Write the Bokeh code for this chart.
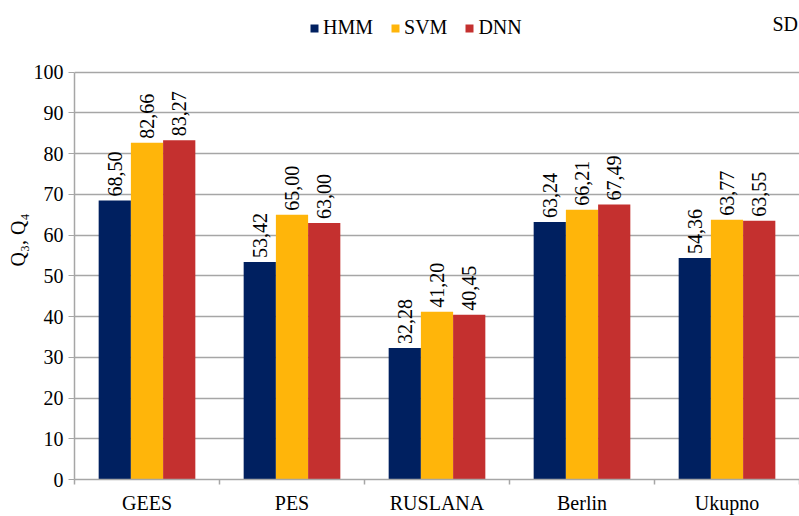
import math
from bokeh.plotting import figure
from bokeh.models import (ColumnDataSource, FixedTicker, Legend, LegendItem, Label, LabelSet, Range1d)
from bokeh.embed import file_html
from bokeh.resources import INLINE

categories = ["GEES", "PES", "RUSLANA", "Berlin", "Ukupno"]
series_names = ["HMM", "SVM", "DNN"]
hmm = [68.50, 53.42, 32.28, 63.24, 54.36]
svm = [82.66, 65.00, 41.20, 66.21, 63.77]
dnn = [83.27, 63.00, 40.45, 67.49, 63.55]
y_ticks = [0, 10, 20, 30, 40, 50, 60, 70, 80, 90, 100]
colors = ["#002060", "#FFB50A", "#C4302F"]

FONT = "Liberation Serif"
FONT_AX = "Times New Roman"
FS = "20px"
Y_TOP = 117.6

p = figure(width=799, height=516, output_backend="svg", toolbar_location=None,
           x_range=Range1d(0, len(categories)), y_range=Range1d(0, Y_TOP),
           min_border_left=74, min_border_right=0, min_border_top=0, min_border_bottom=35)
p.outline_line_color = None

bar_w = 2.0 / 9.0
offsets = [-bar_w, 0.0, bar_w]
renderers = []
for vals, off, col, name in zip([hmm, svm, dnn], offsets, colors, series_names):
    xs = [i + 0.5 + off for i in range(len(categories))]
    src = ColumnDataSource(dict(x=xs, top=vals,
                                label=[f"{v:.2f}".replace(".", ",") for v in vals]))
    r = p.vbar(x="x", top="top", width=bar_w, bottom=0, source=src,
               fill_color=col, line_color=None)
    renderers.append(r)
    p.add_layout(LabelSet(x="x", y="top", text="label", source=src, angle=math.pi / 2,
                          text_align="left", text_baseline="middle", y_offset=4,
                          text_font=FONT, text_font_size=FS, text_color="black"))

# axes
p.xgrid.grid_line_color = None
p.ygrid.grid_line_color = "#A6A6A6"
p.ygrid.grid_line_width = 1.5
p.yaxis.ticker = FixedTicker(ticks=y_ticks)
p.yaxis.bounds = (0, 100)
p.yaxis.axis_line_color = "#A6A6A6"
p.yaxis.axis_line_width = 1.5
p.yaxis.major_tick_line_color = "#A6A6A6"
p.yaxis.major_tick_out = 6
p.yaxis.major_tick_in = 0
p.yaxis.minor_tick_line_color = None
p.yaxis.major_label_text_font = FONT_AX
p.yaxis.major_label_text_font_size = FS
p.yaxis.major_label_text_color = "black"
p.yaxis.axis_label = "Q\u2083, Q\u2084"
p.yaxis.axis_label_text_font = FONT_AX
p.yaxis.axis_label_text_font_size = FS
p.yaxis.axis_label_text_font_style = "normal"
p.yaxis.axis_label_text_color = "black"
p.yaxis.axis_label_standoff = 2

centers = [i + 0.5 for i in range(len(categories))]
p.xaxis.ticker = FixedTicker(ticks=centers, minor_ticks=list(range(len(categories) + 1)))
p.xaxis.major_label_overrides = {c: name for c, name in zip(centers, categories)}
p.xaxis.major_tick_line_color = None
p.xaxis.major_tick_out = 0
p.xaxis.major_tick_in = 0
p.xaxis.minor_tick_line_color = "#A6A6A6"
p.xaxis.minor_tick_line_width = 1.5
p.xaxis.minor_tick_out = 5
p.xaxis.minor_tick_in = 0
p.xaxis.axis_line_color = "#A6A6A6"
p.xaxis.axis_line_width = 1.5
p.xaxis.major_label_text_font = FONT_AX
p.xaxis.major_label_text_font_size = FS
p.xaxis.major_label_text_color = "black"
p.xaxis.major_label_standoff = 7

legend = Legend(items=[LegendItem(label=n, renderers=[r]) for n, r in zip(series_names, renderers)],
                orientation="horizontal", location=(235, 440),
                label_text_font=FONT, label_text_font_size=FS, label_text_color="black",
                glyph_width=10, glyph_height=10, label_standoff=4, spacing=17,
                padding=0, margin=0, border_line_color=None, background_fill_alpha=0)
p.add_layout(legend, "center")

sd = Label(x=698, y=445, x_units="screen", y_units="screen", text="SD",
           text_font=FONT, text_font_size=FS, text_color="black")
p.add_layout(sd)

open("out.html", "w").write(file_html(p, INLINE))
